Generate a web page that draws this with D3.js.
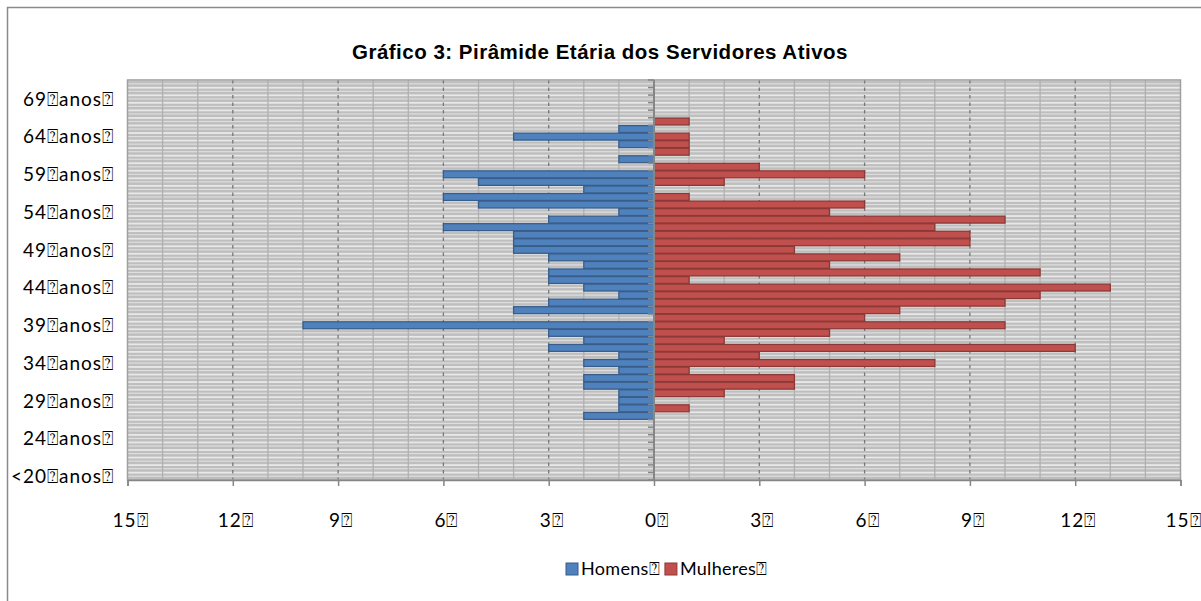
<!DOCTYPE html>
<html><head><meta charset="utf-8">
<script src="https://cdn.jsdelivr.net/npm/d3@7"></script>
<style>body{margin:0;background:#fff}svg{display:block}</style>
</head><body>
<svg id="c" width="1201" height="601"></svg>
<script>
// ---- data (bottom to top) ----
const categories = ["<20 anos","20 anos","21 anos","22 anos","23 anos","24 anos","25 anos","26 anos","27 anos","28 anos",
  "29 anos","30 anos","31 anos","32 anos","33 anos","34 anos","35 anos","36 anos","37 anos","38 anos",
  "39 anos","40 anos","41 anos","42 anos","43 anos","44 anos","45 anos","46 anos","47 anos","48 anos",
  "49 anos","50 anos","51 anos","52 anos","53 anos","54 anos","55 anos","56 anos","57 anos","58 anos",
  "59 anos","60 anos","61 anos","62 anos","63 anos","64 anos","65 anos","66 anos","67 anos","68 anos",
  "69 anos","70 anos","71 anos"];
const homens = [0,0,0,0,0,0,0,0,2,1,
  1,1,2,2,1,2,1,3,2,3,
  10,0,4,3,1,2,3,3,2,3,
  4,4,4,6,3,1,5,6,2,5,
  6,0,1,0,1,4,1,0,0,0,
  0,0,0];
const mulheres = [0,0,0,0,0,0,0,0,0,1,
  0,2,4,4,1,8,3,12,2,5,
  10,6,7,10,11,13,1,11,5,7,
  4,9,9,8,10,5,6,1,0,2,
  6,3,0,1,1,1,0,1,0,0,
  0,0,0];
const xTickValues = [-15,-12,-9,-6,-3,0,3,6,9,12,15];
const xTickLabels = ["15","12","9","6","3","0","3","6","9","12","15"];
const seriesNames = ["Homens","Mulheres"];
const title = "Gráfico 3: Pirâmide Etária dos Servidores Ativos";
const BOX = "\u2370";

// ---- layout ----
const svg = d3.select("#c");
const L = 127.5, R = 1180.5, T = 80, B = 480;
const x = d3.scaleLinear().domain([-15, 15]).range([L, R]);
const y = d3.scaleBand().domain(categories.slice().reverse()).range([T, B]).paddingInner(0);
const h = y.bandwidth();
const C = {blue:"#4f81bd", blueS:"#385d8a", red:"#c0504d", redS:"#8c3836", axis:"#868686"};
const FONT = "Lato, 'Open Sans', sans-serif";

// outer frame
svg.append("path").attr("d","M7.5,700 V7.5 H1300").attr("fill","none").attr("stroke","#8a8a8a").attr("stroke-width",1.5);

// title
svg.append("text").attr("x",600).attr("y",59).attr("text-anchor","middle")
  .attr("font-family","'Liberation Sans', Arial, sans-serif").attr("font-weight","bold").attr("font-size",20.5)
  .attr("letter-spacing",0.5).text(title);

// plot background pattern
const g = svg.append("g");
g.append("rect").attr("x",L).attr("y",T).attr("width",R-L).attr("height",B-T).attr("fill","#bebebe");
const bounds = categories.map(c => y(c));
g.selectAll("rect.s1").data(bounds).join("rect").attr("class","s1")
  .attr("x",L).attr("width",R-L).attr("y",d=>d-0.7).attr("height",1.8).attr("fill","#e8e8e8");
g.selectAll("rect.s2").data(bounds).join("rect").attr("class","s2")
  .attr("x",L).attr("width",R-L).attr("y",d=>d+h*0.42).attr("height",1.2).attr("fill","#dedede");

// minor vertical gridlines
const minor = d3.range(-14, 15).filter(v => v % 3 !== 0);
g.selectAll("line.mi").data(minor).join("line").attr("class","mi")
  .attr("x1",d=>x(d)).attr("x2",d=>x(d)).attr("y1",T).attr("y2",B)
  .attr("stroke","#b0b0b0").attr("stroke-width",1.3);
// major vertical gridlines
const major = xTickValues.filter(v => v !== 0 && Math.abs(v) !== 15);
g.selectAll("line.ma").data(major).join("line").attr("class","ma")
  .attr("x1",d=>x(d)).attr("x2",d=>x(d)).attr("y1",T).attr("y2",B)
  .attr("stroke","#777").attr("stroke-width",1.3).attr("stroke-dasharray","3.5,4");
// plot border
g.append("rect").attr("x",L).attr("y",T).attr("width",R-L).attr("height",B-T)
  .attr("fill","none").attr("stroke","#a0a0a0").attr("stroke-width",1.5);

// bars
const pad = 0.3;
svg.append("g").selectAll("rect").data(categories.map((c,i)=>({c,v:homens[i]})).filter(d=>d.v>0)).join("rect")
  .attr("x",d=>x(-d.v)).attr("width",d=>x(0)-x(-d.v)).attr("y",d=>y(d.c)+pad).attr("height",h-2*pad)
  .attr("fill",C.blue).attr("stroke",C.blueS).attr("stroke-width",1.3);
svg.append("g").selectAll("rect").data(categories.map((c,i)=>({c,v:mulheres[i]})).filter(d=>d.v>0)).join("rect")
  .attr("x",x(0)).attr("width",d=>x(d.v)-x(0)).attr("y",d=>y(d.c)+pad).attr("height",h-2*pad)
  .attr("fill",C.red).attr("stroke",C.redS).attr("stroke-width",1.3);

// category axis at zero
const ya = svg.append("g").attr("transform",`translate(${x(0)},0)`)
  .call(d3.axisLeft(y).tickSize(0).tickFormat(""));
ya.select(".domain").remove();
ya.append("line").attr("y1",T).attr("y2",B).attr("stroke",C.axis).attr("stroke-width",2);
ya.selectAll("line.tk").data(bounds.concat([B])).join("line").attr("class","tk")
  .attr("x1",-6).attr("x2",0).attr("y1",d=>d).attr("y2",d=>d).attr("stroke",C.axis).attr("stroke-width",1.5);

// category labels on the left
svg.append("g").selectAll("text").data(categories.filter((c,i)=>i%5===0)).join("text")
  .attr("x",114).attr("y",d=>y(d)+h/2).attr("dy","0.36em").attr("text-anchor","end")
  .attr("font-family",FONT).attr("font-size",19).attr("letter-spacing",1).attr("fill","#000")
  .text(d => d.replace(" ", BOX) + BOX);

// value axis at bottom
const xa = svg.append("g").attr("transform",`translate(0,${B})`)
  .call(d3.axisBottom(x).tickValues(xTickValues).tickSize(6).tickFormat(""));
xa.select(".domain").attr("stroke",C.axis).attr("stroke-width",1.5);
xa.selectAll(".tick line").attr("stroke",C.axis).attr("stroke-width",1.5);
svg.append("g").selectAll("text").data(xTickValues).join("text")
  .attr("x",d=>x(d)+3).attr("y",527).attr("text-anchor","middle")
  .attr("font-family",FONT).attr("font-size",19).attr("letter-spacing",1).attr("fill","#000")
  .text((d,i)=>xTickLabels[i] + BOX);

// legend
const lg = svg.append("g");
const items = seriesNames.map((n,i)=>({n, f:[C.blue,C.red][i], s:[C.blueS,C.redS][i]}));
const lt = lg.selectAll("g").data(items).join("g");
lt.append("rect").attr("width",12).attr("height",12).attr("y",-6)
  .attr("fill",d=>d.f).attr("stroke",d=>d.s).attr("stroke-width",1);
lt.append("text").attr("x",15).attr("dy","0.36em")
  .attr("font-family",FONT).attr("font-size",18).attr("letter-spacing",0.3).attr("fill","#000").text(d=>d.n+BOX);
let cx = 566;
lt.each(function(){ d3.select(this).attr("transform",`translate(${cx},569)`);
  cx += 15 + this.querySelector("text").getComputedTextLength() + 5; });
</script>
</body></html>
